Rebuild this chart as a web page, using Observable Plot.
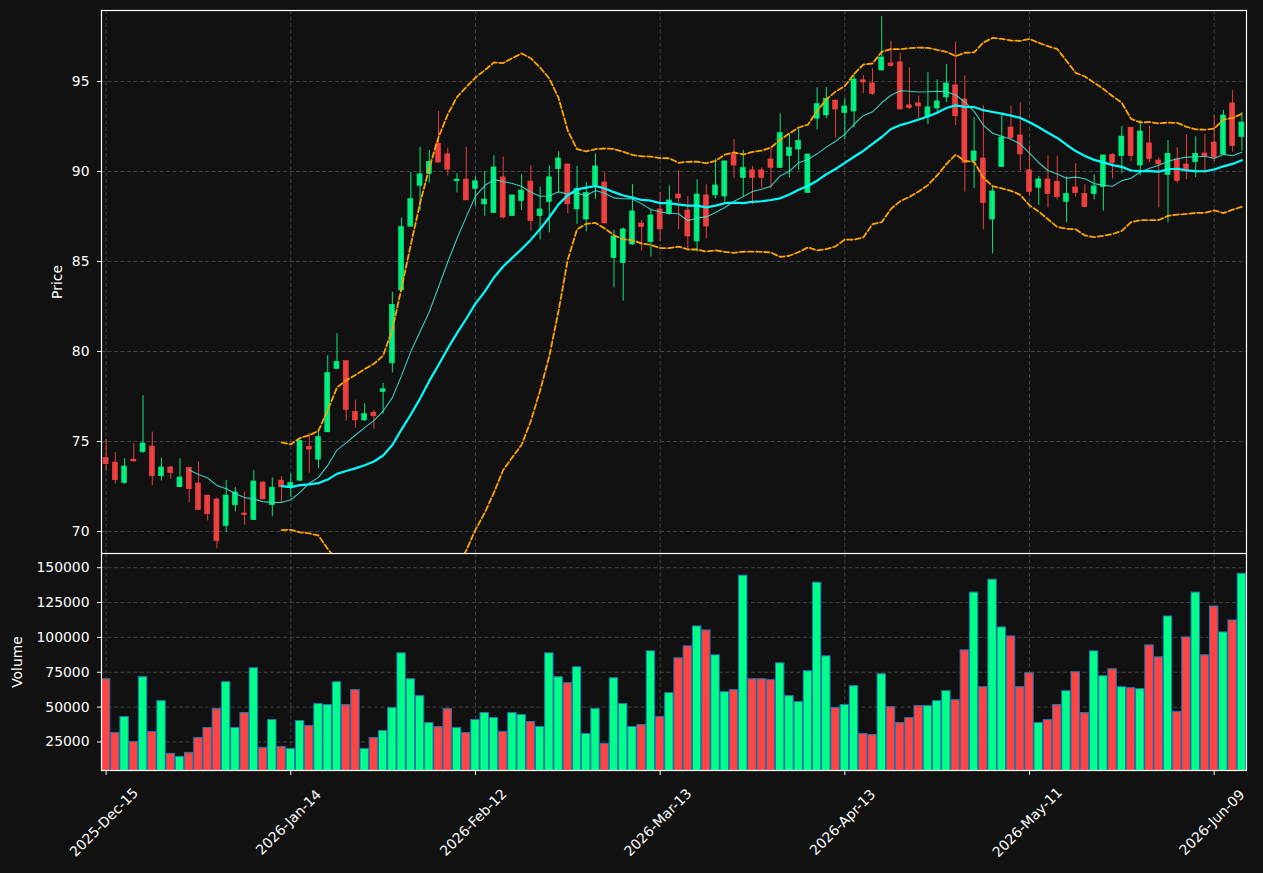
<!DOCTYPE html>
<html><head><meta charset="utf-8">
<script src="https://cdn.jsdelivr.net/npm/d3@7"></script>
<script src="https://cdn.jsdelivr.net/npm/@observablehq/plot@0.6"></script>
<style>
html,body{margin:0;padding:0;background:#111111;}
#chart{width:1263px;height:873px;overflow:hidden;background:#111111;}
#chart svg{display:block;}
</style></head><body><div id="chart"></div>
<script>
const opens = [
74.09,73.83,72.69,74.00,74.41,74.72,73.07,73.56,72.46,73.54,
72.67,72.00,71.78,70.30,71.46,71.00,70.63,72.72,71.46,72.83,
72.40,72.82,74.71,73.99,75.51,79.03,79.47,76.65,76.17,76.60,
77.75,79.34,83.39,86.93,89.20,89.86,91.54,90.95,89.45,89.55,
89.03,88.17,87.69,89.67,87.52,88.35,89.44,87.52,88.30,90.13,
90.39,87.89,87.33,89.22,89.39,85.19,84.91,85.94,87.11,86.07,
87.89,87.65,88.72,87.83,86.11,88.67,88.67,88.61,90.94,89.63,
90.06,90.06,90.67,90.19,90.85,91.22,88.80,92.93,93.11,93.94,
93.24,93.33,95.06,94.89,95.61,96.00,96.06,93.67,93.78,93.06,
93.50,94.11,94.78,94.00,90.57,90.72,87.33,90.24,92.44,92.00,
90.06,89.09,89.56,89.43,88.30,89.11,88.76,88.74,89.13,90.93,
90.85,92.43,90.33,91.56,90.61,89.80,90.67,90.39,90.52,91.00,
91.61,90.94,93.78,91.91];
const highs = [
75.13,74.39,74.04,74.87,77.54,75.52,74.07,73.61,74.04,73.54,
73.87,72.00,71.87,72.83,72.43,72.20,73.39,72.78,72.98,73.04,
73.20,75.10,75.45,75.64,79.77,80.99,79.47,77.30,77.10,76.71,
78.23,83.29,87.41,89.94,91.34,91.17,93.33,91.30,89.88,91.34,
89.70,90.00,90.87,90.80,88.67,89.83,90.31,89.13,90.31,91.09,
90.39,90.28,89.37,90.98,89.93,86.72,86.87,89.26,87.28,87.89,
88.83,89.20,90.06,88.61,89.54,89.26,90.70,90.56,91.78,91.17,
90.28,90.20,91.28,93.20,92.09,92.37,90.98,94.65,94.65,93.94,
94.04,95.43,95.33,95.70,98.61,97.24,96.57,95.76,94.19,95.48,
95.09,95.93,97.19,95.31,92.98,93.65,89.17,93.19,93.63,93.81,
91.41,89.72,90.87,90.85,89.69,90.43,89.26,89.81,90.89,90.98,
92.50,92.43,92.83,92.52,90.76,91.72,91.31,92.04,91.93,92.06,
93.09,93.39,94.48,93.26];
const lows = [
73.35,72.63,72.61,73.85,74.35,72.54,72.81,72.91,72.46,71.59,
71.19,70.59,69.04,69.96,71.09,70.35,70.63,71.78,70.82,71.54,
71.90,72.80,73.25,73.50,75.50,79.03,76.13,75.74,76.10,75.68,
76.52,78.81,83.39,86.93,87.80,89.36,90.49,89.75,88.81,88.39,
88.07,87.52,87.69,87.35,87.52,87.83,86.69,86.20,86.59,88.76,
87.65,87.06,86.65,88.46,87.11,83.54,82.80,85.89,85.57,85.24,
86.11,87.56,86.76,85.61,85.52,86.26,88.48,88.30,89.59,88.57,
88.15,89.07,89.02,90.19,89.65,90.06,88.80,92.31,92.93,91.87,
91.76,92.41,94.31,94.22,95.56,95.80,93.44,93.44,92.93,92.59,
93.15,93.83,92.54,88.85,89.04,86.76,85.43,90.24,91.69,90.04,
88.63,88.11,87.98,88.43,87.15,88.57,87.98,88.43,87.80,89.57,
89.87,90.54,89.76,90.48,87.98,87.15,89.35,89.54,89.65,89.87,
90.54,90.94,91.07,91.13];
const closes = [
73.74,72.85,73.61,73.89,74.89,73.07,73.56,73.24,73.00,72.35,
71.19,70.96,69.46,72.00,72.17,70.91,72.78,71.78,72.44,72.46,
72.70,75.04,74.55,75.25,78.81,79.43,76.75,76.17,76.52,76.40,
77.90,82.59,86.91,88.46,89.84,90.53,90.49,90.10,89.55,88.39,
89.45,88.44,90.22,87.44,88.67,88.94,87.24,87.89,89.67,90.72,
88.17,89.04,88.81,90.28,87.11,86.39,86.78,87.78,86.91,87.56,
86.78,88.39,88.50,86.39,88.72,86.94,89.22,90.56,90.33,90.19,
89.63,89.63,90.19,92.13,91.31,91.70,90.94,93.74,94.04,93.44,
93.61,95.11,94.94,94.30,96.33,95.85,93.44,93.52,93.61,93.56,
93.89,94.89,93.06,90.46,91.11,88.24,88.89,91.89,91.85,90.94,
88.85,89.56,88.74,88.57,88.76,88.80,88.02,89.17,90.89,90.46,
91.94,90.85,92.22,90.69,90.39,90.98,89.46,90.06,90.98,90.85,
90.76,93.11,91.41,92.72];
const volumes = [
70000,31400,42860,25000,71430,32140,54290,16430,14290,17140,
27860,35000,48570,67860,35000,45710,77860,20710,40710,21430,
20000,40000,36430,52140,51430,67860,51430,62140,20000,27860,
32860,49290,88570,70000,57860,38570,35710,48570,35000,31430,
40710,45710,42140,32140,45710,44290,39290,35710,88570,71430,
67140,78570,30710,48570,23570,70710,52140,35710,37140,90000,
42860,60000,85000,93570,107860,105000,87140,60710,62140,144290,
70000,70000,69290,81430,57860,53570,75710,139290,86430,49290,
51430,65000,30710,30000,73570,50000,38570,42140,50710,50710,
54290,61430,55000,90710,132140,64290,141430,107140,100710,64290,
74290,38570,40710,51430,61430,75000,45710,90000,72140,77140,
64290,63570,62860,94290,85710,115000,46430,100000,132140,87140,
122140,103570,112140,145710];

const tickIdx = [0, 20, 40, 60, 80, 100, 120];
const tickLabels = ["2025-Dec-15","2026-Jan-14","2026-Feb-12","2026-Mar-13","2026-Apr-13","2026-May-11","2026-Jun-09"];
const priceTicks = [70, 75, 80, 85, 90, 95];
const volumeTicks = [25000, 50000, 75000, 100000, 125000, 150000];

const UP = "#00ff88", DOWN = "#ff4444";
const GRID = "#444444";
const n = closes.length;
const idx = d3.range(n);
const bars = idx.map(i => ({i, open: opens[i], high: highs[i], low: lows[i], close: closes[i], volume: volumes[i], up: closes[i] >= opens[i]}));
const upBars = bars.filter(d => d.up), downBars = bars.filter(d => !d.up);

function rolling(k, f) {
  return idx.map(i => i < k - 1 ? NaN : f(closes.slice(i - k + 1, i + 1)));
}
const sma10 = rolling(10, w => d3.mean(w));
const sma20 = rolling(20, w => d3.mean(w));
const std20 = rolling(20, w => { const m = d3.mean(w); return Math.sqrt(d3.mean(w, v => (v - m) ** 2)); });
const lines = idx.map(i => ({i, sma10: sma10[i], sma20: sma20[i], upper: sma20[i] + 2 * std20[i], lower: sma20[i] - 2 * std20[i]}));

const style = {background: "#111111", color: "white", fontFamily: "DejaVu Sans, sans-serif", fontSize: "13.9px"};
const xScale = {type: "band", domain: idx, padding: 0, round: false, axis: null};

const price = Plot.plot({
  width: 1263, height: 553, marginTop: 10, marginBottom: 0, marginLeft: 101, marginRight: 17,
  style,
  x: xScale,
  y: {domain: [68.78, 98.94], axis: null},
  marks: [
    Plot.ruleX(tickIdx, {x: d => d, stroke: GRID, strokeDasharray: "4,2.5"}),
    Plot.ruleY(priceTicks, {y: d => d, stroke: GRID, strokeDasharray: "4,2.5"}),
    Plot.ruleX(upBars, {x: "i", y1: "low", y2: "high", stroke: UP, strokeOpacity: 0.9, strokeWidth: 1, clip: true}),
    Plot.ruleX(downBars, {x: "i", y1: "low", y2: "high", stroke: DOWN, strokeOpacity: 0.9, strokeWidth: 1, clip: true}),
    Plot.barY(upBars, {x: "i", y1: "open", y2: "close", fill: UP, stroke: UP, strokeWidth: 0.6, fillOpacity: 0.9, strokeOpacity: 0.9, insetLeft: 2.1, insetRight: 2.1, clip: true}),
    Plot.barY(downBars, {x: "i", y1: "open", y2: "close", fill: DOWN, stroke: DOWN, strokeWidth: 0.6, fillOpacity: 0.9, strokeOpacity: 0.9, insetLeft: 2.1, insetRight: 2.1, clip: true}),
    Plot.line(lines, {x: "i", y: "upper", stroke: "#ffa500", strokeWidth: 1.8, strokeDasharray: "5.5,2.6", clip: true}),
    Plot.line(lines, {x: "i", y: "lower", stroke: "#ffa500", strokeWidth: 1.8, strokeDasharray: "5.5,2.6", clip: true}),
    Plot.line(lines, {x: "i", y: "sma10", stroke: "#40e0d0", strokeWidth: 1.1, strokeOpacity: 0.9, clip: true}),
    Plot.line(lines, {x: "i", y: "sma20", stroke: "#00ffff", strokeWidth: 2.2, clip: true}),
    Plot.axisY({ticks: priceTicks, tickSize: 4, tickPadding: 8, label: null, stroke: "white"}),
    Plot.text(["Price"], {frameAnchor: "left", text: d => d, rotate: -90, dx: -44, textAnchor: "middle", lineAnchor: "middle", fill: "white"}),
    Plot.frame({stroke: "white", strokeWidth: 1.2})
  ]
});

const volume = Plot.plot({
  width: 1263, height: 320, marginTop: 0, marginBottom: 103, marginLeft: 101, marginRight: 17,
  style,
  x: xScale,
  y: {domain: [4500, 160200], axis: null},
  marks: [
    Plot.ruleX(tickIdx, {x: d => d, stroke: GRID, strokeDasharray: "4,2.5"}),
    Plot.ruleY(volumeTicks, {y: d => d, stroke: GRID, strokeDasharray: "4,2.5"}),
    Plot.barY(upBars, {x: "i", y: "volume", fill: UP, stroke: "#1f77b4", strokeWidth: 1, insetLeft: 0.4, insetRight: 0.4, clip: true}),
    Plot.barY(downBars, {x: "i", y: "volume", fill: DOWN, stroke: "#1f77b4", strokeWidth: 1, insetLeft: 0.4, insetRight: 0.4, clip: true}),
    Plot.axisY({ticks: volumeTicks, tickSize: 4, tickPadding: 8, tickFormat: d3.format("d"), label: null, stroke: "white"}),
    Plot.axisX({ticks: tickIdx, tickSize: 5, tickFormat: () => "", label: null, stroke: "white"}),
    Plot.text(tickIdx, {x: d => d, frameAnchor: "bottom", text: (d, j) => tickLabels[j], rotate: -45, dy: 52, dx: -2, textAnchor: "middle", lineAnchor: "middle", fill: "white"}),
    Plot.text(["Volume"], {frameAnchor: "left", text: d => d, rotate: -90, dx: -84, textAnchor: "middle", lineAnchor: "middle", fill: "white"}),
    Plot.frame({stroke: "white", strokeWidth: 1.2})
  ]
});

const chart = document.getElementById("chart");
chart.appendChild(price);
chart.appendChild(volume);
</script></body></html>
